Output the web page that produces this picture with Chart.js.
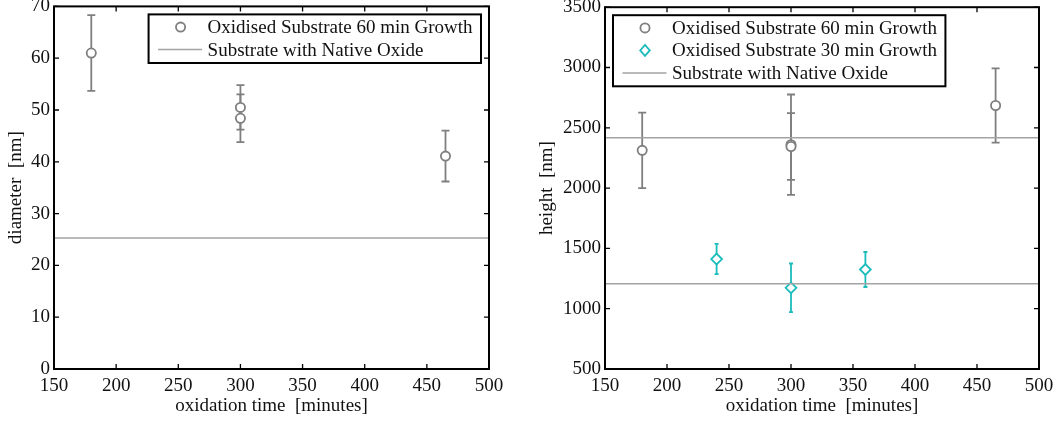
<!DOCTYPE html>
<html lang="en">
<head>
<meta charset="UTF-8">
<title>Oxidation time</title>
<script src="https://cdn.jsdelivr.net/npm/chart.js"></script>
<style>
  body { margin:0; background:#fff; }
  canvas { position:absolute; top:0; }
  #diaChart { left:0; }
  #hgtChart { left:520px; }
</style>
</head>
<body>
<canvas id="diaChart" width="520" height="423"></canvas>
<canvas id="hgtChart" width="539" height="423"></canvas>

<script>
// diameter vs oxidation time (60 min growth)
const diaTime  = [180, 300, 300, 465];
const diaValue = [61.0, 50.5, 48.4, 41.1];
const diaErr   = [7.3, 4.3, 4.6, 4.9];
const diaNative = 25.3;

// height vs oxidation time
const hgtTime60  = [180, 300, 300, 465];
const hgtValue60 = [2313, 2360, 2345, 2685];
const hgtErr60   = [313, 416, 277, 308];
const hgtTime30  = [240, 300, 360];
const hgtValue30 = [1412, 1173, 1325];
const hgtErr30   = [125, 202, 145];
const hgtNative  = [2418, 1207];

// tick labels
const timeTicks = [150, 200, 250, 300, 350, 400, 450, 500];
const diaTicks  = [0, 10, 20, 30, 40, 50, 60, 70];
const hgtTicks  = [500, 1000, 1500, 2000, 2500, 3000, 3500];

const lbl60 = 'Oxidised Substrate 60 min Growth';
const lbl30 = 'Oxidised Substrate 30 min Growth';
const lblNative = 'Substrate with Native Oxide';

const GREY = '#7f7f7f';
const LINE_GREY = '#a3a3a3';
const CYAN = '#1bbcbc';
const SERIF = '"Liberation Serif", "Times New Roman", serif';

Chart.defaults.font.family = SERIF;
Chart.defaults.font.size = 19;
Chart.defaults.color = '#111';

const toPoints = (xs, ys) => xs.map((x, i) => ({x: x, y: ys[i]}));

// vertical error bars with small caps, drawn under the markers
const errorBars = {
  id: 'errorBars',
  beforeDatasetsDraw(chart) {
    const {ctx, scales: {x, y}} = chart;
    chart.data.datasets.forEach(ds => {
      if (!ds.errors) return;
      ctx.save();
      ctx.strokeStyle = ds.borderColor;
      ctx.lineWidth = 1.8;
      ds.data.forEach((p, i) => {
        const px = x.getPixelForValue(p.x);
        const top = y.getPixelForValue(p.y + ds.errors[i]);
        const bot = y.getPixelForValue(p.y - ds.errors[i]);
        const c = ds.capWidth;
        ctx.beginPath();
        ctx.moveTo(px, top); ctx.lineTo(px, bot);
        ctx.moveTo(px - c, top); ctx.lineTo(px + c, top);
        ctx.moveTo(px - c, bot); ctx.lineTo(px + c, bot);
        ctx.stroke();
      });
      ctx.restore();
    });
  }
};

// box around the plot with inward ticks on all four sides
const frame = {
  id: 'frame',
  afterDatasetsDraw(chart) {
    const {ctx, chartArea: a, scales: {x, y}} = chart;
    ctx.save();
    ctx.strokeStyle = '#000';
    ctx.lineWidth = 1.3;
    ctx.beginPath();
    x.ticks.forEach(t => {
      const px = x.getPixelForValue(t.value);
      ctx.moveTo(px, a.bottom); ctx.lineTo(px, a.bottom - 5);
      ctx.moveTo(px, a.top); ctx.lineTo(px, a.top + 5);
    });
    y.ticks.forEach(t => {
      const py = y.getPixelForValue(t.value);
      ctx.moveTo(a.left, py); ctx.lineTo(a.left + 5, py);
      ctx.moveTo(a.right, py); ctx.lineTo(a.right - 5, py);
    });
    ctx.stroke();
    ctx.lineWidth = 2;
    ctx.strokeRect(a.left, a.top, a.right - a.left, a.bottom - a.top);
    ctx.restore();
  }
};

function drawMarker(ctx, kind, color, cx, cy) {
  ctx.save();
  ctx.strokeStyle = color;
  ctx.fillStyle = '#fff';
  ctx.lineWidth = 1.8;
  ctx.beginPath();
  if (kind === 'circle') {
    ctx.arc(cx, cy, 4.6, 0, Math.PI * 2);
  } else if (kind === 'diamond') {
    ctx.moveTo(cx, cy - 5.5); ctx.lineTo(cx + 4.8, cy);
    ctx.lineTo(cx, cy + 5.5); ctx.lineTo(cx - 4.8, cy);
    ctx.closePath();
  } else {
    ctx.lineWidth = 1.5;
    ctx.moveTo(cx - 22, cy); ctx.lineTo(cx + 22, cy);
    ctx.stroke();
    ctx.restore();
    return;
  }
  ctx.fill();
  ctx.stroke();
  ctx.restore();
}

// legend box inside the plot area
const boxLegend = {
  id: 'boxLegend',
  afterDraw(chart, args, opts) {
    const {ctx, chartArea: a} = chart;
    ctx.save();
    ctx.font = '19px ' + SERIF;
    const textW = Math.max(...opts.labels.map(t => ctx.measureText(t).width));
    const w = 59 + textW + 8.5;
    const h = opts.labels.length * 22.5 + 3.6;
    const left = opts.align === 'right' ? a.right - 8 - w : a.left + 8;
    const top = a.top + 8;
    ctx.fillStyle = '#fff';
    ctx.fillRect(left, top, w, h);
    ctx.strokeStyle = '#000';
    ctx.lineWidth = 2;
    ctx.strokeRect(left, top, w, h);
    opts.labels.forEach((t, i) => {
      const cy = top + 12.7 + i * 22.5;
      const kind = opts.kinds[i];
      drawMarker(ctx, kind, opts.colors[i], kind === 'line' ? left + 31.5 : left + 32, cy);
      ctx.fillStyle = '#111';
      ctx.textBaseline = 'middle';
      ctx.fillText(t, left + 59, cy + 1);
    });
    ctx.restore();
  }
};

const fixTicks = arr => scale => { scale.ticks = arr.map(v => ({value: v})); };

const drawChart = (canvasId, datasets, yTicks, yTitle, yAxisWidth, yTitlePad, padRight, legend) => {
  const ctx = document.querySelector(canvasId).getContext('2d');
  return new Chart(ctx, {
    type: 'scatter',
    data: {datasets: datasets},
    options: {
      responsive: false,
      animation: false,
      layout: {padding: {top: 6, right: padRight, left: 0, bottom: 0}},
      plugins: {
        legend: {display: false},
        tooltip: {enabled: false},
        boxLegend: legend
      },
      scales: {
        x: {
          type: 'linear',
          min: timeTicks[0],
          max: timeTicks[timeTicks.length - 1],
          afterBuildTicks: fixTicks(timeTicks),
          grid: {display: false, drawTicks: false},
          border: {display: false},
          ticks: {padding: 6, maxRotation: 0, autoSkip: false, callback: v => String(v)},
          title: {display: true, text: 'oxidation time  [minutes]', padding: {top: 0, bottom: 6}},
          afterFit: s => { s.height = 54; s.paddingLeft = 0; s.paddingRight = 0; }
        },
        y: {
          type: 'linear',
          min: yTicks[0],
          max: yTicks[yTicks.length - 1],
          afterBuildTicks: fixTicks(yTicks),
          grid: {display: false, drawTicks: false},
          border: {display: false},
          ticks: {padding: 4, autoSkip: false, callback: v => String(v)},
          title: {display: true, text: yTitle, padding: {top: yTitlePad, bottom: 0}},
          afterFit: s => { s.width = yAxisWidth; s.paddingTop = 0; s.paddingBottom = 0; }
        }
      }
    },
    plugins: [errorBars, frame, boxLegend]
  });
};

const nativeLine = v => ({
  data: [{x: timeTicks[0], y: v}, {x: timeTicks[timeTicks.length - 1], y: v}],
  showLine: true, pointRadius: 0, borderColor: LINE_GREY, borderWidth: 1.5
});

const markerSet = (xs, ys, errs, style, color, radius, cap) => ({
  data: toPoints(xs, ys),
  errors: errs,
  capWidth: cap,
  pointStyle: style,
  pointRadius: radius,
  pointBorderWidth: 1.8,
  borderColor: color,
  backgroundColor: '#fff'
});

drawChart('#diaChart', [
  nativeLine(diaNative),
  markerSet(diaTime, diaValue, diaErr, 'circle', GREY, 4.6, 4)
], diaTicks, 'diameter  [nm]', 54, 5, 31, {
  align: 'right',
  labels: [lbl60, lblNative],
  kinds: ['circle', 'line'],
  colors: [GREY, LINE_GREY]
});

drawChart('#hgtChart', [
  nativeLine(hgtNative[0]),
  nativeLine(hgtNative[1]),
  markerSet(hgtTime60, hgtValue60, hgtErr60, 'circle', GREY, 4.6, 4),
  markerSet(hgtTime30, hgtValue30, hgtErr30, 'rectRot', CYAN, 5.4, 2)
], hgtTicks, 'height  [nm]', 85, 16, 20, {
  align: 'left',
  labels: [lbl60, lbl30, lblNative],
  kinds: ['circle', 'diamond', 'line'],
  colors: [GREY, CYAN, LINE_GREY]
});
</script>
</body>
</html>
